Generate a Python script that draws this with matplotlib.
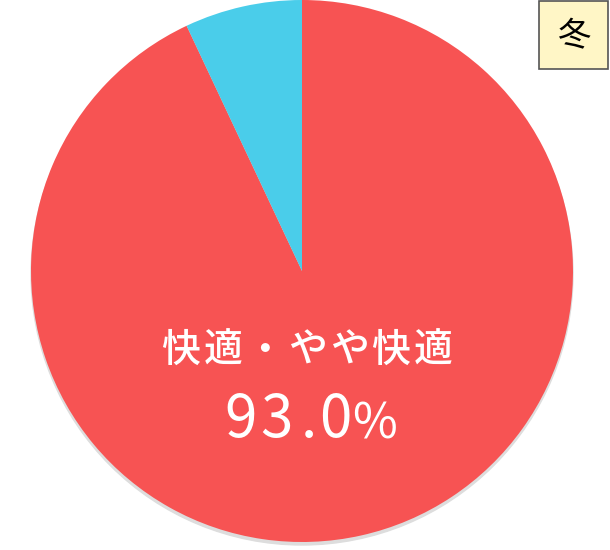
import matplotlib
matplotlib.use('Agg')
import matplotlib.pyplot as plt
from matplotlib.patches import Circle, Rectangle

plt.rcParams['font.family'] = ['Noto Sans CJK JP', 'DejaVu Sans']

# Datos
labels = ['快適・やや快適', 'その他']
values = [93.0, 7.0]
colors = ['#F75353', '#4ACDEA']
season = '冬'

W, H = 610, 550
cx, cy, r = 302, H - 271, 271

fig = plt.figure(figsize=(W / 100, H / 100), dpi=100)
ax = fig.add_axes([0, 0, 1, 1])

# Sombra
ax.add_patch(Circle((cx, cy - 3), r, color='#DDDDDD', zorder=1))

# Tarta
ax.pie(values, colors=colors, startangle=90, counterclock=False,
       center=(cx, cy), radius=r, frame=True,
       wedgeprops=dict(linewidth=0, zorder=2))
ax.set_xlim(0, W)
ax.set_ylim(0, H)
ax.set_aspect('equal')
ax.axis('off')

# Etiqueta con espaciado entre letras
for i, ch in enumerate(labels[0]):
    ax.text(181 + 42 * i, H - 351, ch, color='white', fontsize=28,
            ha='center', va='center', fontweight='medium', zorder=3)

# Porcentaje
pct = f'{values[0]:.1f}'
xs = [241, 276, 309, 335]
for x, ch in zip(xs, pct):
    ax.text(x, H - 421, ch, color='white', fontsize=42,
            ha='center', va='center', zorder=3)
ax.text(374, H - 425, '%', color='white', fontsize=35,
        ha='center', va='center', zorder=3)

# Caja de estación
ax.add_patch(Rectangle((539, H - 69), 69, 68, facecolor='#FFF6C6',
                       edgecolor='#555555', linewidth=1.2, zorder=4))
ax.text(575, H - 37, season, fontsize=24, ha='center', va='center', zorder=5)

fig.savefig('out.png', dpi=100)
